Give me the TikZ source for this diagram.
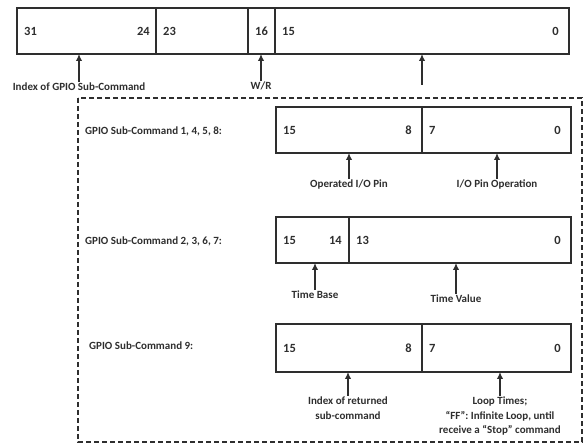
\documentclass[tikz,border=0pt]{standalone}
\usepackage{fontspec}
\setmainfont{Carlito}
\usepackage{tikz}
\usetikzlibrary{arrows.meta,positioning}
\definecolor{regline}{gray}{0.18}

\begin{document}
\begin{tikzpicture}[x=1pt,y=-1pt,regline,
	every node/.style={font=\fontsize{11}{14.5}\selectfont\bfseries,text=regline},
	fld/.style={draw=regline,line width=1.5pt,minimum height=46pt,inner sep=0pt,outer sep=0pt},
	num/.style={inner sep=0pt,font=\fontsize{12.5}{14}\selectfont\bfseries},
	lbl/.style={inner sep=1pt,align=center},
	arr/.style={line width=1.8pt,-{Latex[length=7pt,width=6.5pt]}}]
			\useasboundingbox (0,0) rectangle (584,443);

			\node[fld,minimum width=139pt,anchor=north west] (t31) at (17,8) {};
			\node[fld,minimum width=92pt,right=0pt of t31] (t23) {};
			\node[fld,minimum width=27pt,right=0pt of t23] (t16) {};
			\node[fld,minimum width=294pt,right=0pt of t16] (t15) {};
				\node[num,anchor=west] (n31) at ([xshift=7pt]t31.west) {31};
				\node[num,anchor=east] (n24) at ([xshift=-6pt]t31.east) {24};
				\node[num,anchor=west] (n23) at ([xshift=7pt]t23.west) {23};
				\node[num] (n16) at (t16) {16};
				\node[num,anchor=west] (n15) at ([xshift=7pt]t15.west) {15};
				\node[num,anchor=east] (n0) at ([xshift=-10pt]t15.east) {0};

			\node[lbl] (lidx) at (79,87) {Index of GPIO Sub-Command};
			\node[lbl] (lwr) at (261,86) {W/R};
			\coordinate (ctail) at (422,85);
			\draw[arr] (lidx.north) -- (lidx.north |- t31.south);
			\draw[arr] (lwr.north) -- (lwr.north |- t16.south);
			\draw[arr] (ctail) -- (ctail |- t15.south);

			\draw[line width=1.4pt,dash pattern=on 5pt off 3pt] (78,98) rectangle (582,442);

			\node[lbl,anchor=west] (ca) at (84,131) {GPIO Sub-Command 1, 4, 5, 8:};
			\node[fld,minimum width=146pt,anchor=north west] (a15) at (276,107) {};
			\node[fld,minimum width=149pt,right=0pt of a15] (a7) {};
				\node[num,anchor=west] (na15) at ([xshift=7pt]a15.west) {15};
				\node[num,anchor=east] (na8) at ([xshift=-10pt]a15.east) {8};
				\node[num,anchor=west] (na7) at ([xshift=7pt]a7.west) {7};
				\node[num,anchor=east] (na0) at ([xshift=-10pt]a7.east) {0};
			\node[lbl] (lpin) at (349,185) {Operated I/O Pin};
			\node[lbl] (lop) at (497,185) {I/O Pin Operation};
			\draw[arr] (lpin.north) -- (lpin.north |- a15.south);
			\draw[arr] (lop.north) -- (lop.north |- a7.south);

			\node[lbl,anchor=west] (cb) at (84,241) {GPIO Sub-Command 2, 3, 6, 7:};
			\node[fld,minimum width=73pt,anchor=north west] (b15) at (276,217) {};
			\node[fld,minimum width=222pt,right=0pt of b15] (b13) {};
				\node[num,anchor=west] (nb15) at ([xshift=7pt]b15.west) {15};
				\node[num,anchor=east] (nb14) at ([xshift=-7pt]b15.east) {14};
				\node[num,anchor=west] (nb13) at ([xshift=7pt]b13.west) {13};
				\node[num,anchor=east] (nb0) at ([xshift=-10pt]b13.east) {0};
			\node[lbl] (lbase) at (315,295) {Time Base};
			\node[lbl] (lval) at (456,299) {Time Value};
			\draw[arr] (lbase.north) -- (lbase.north |- b15.south);
			\draw[arr] (lval.north) -- (lval.north |- b13.south);

			\node[lbl,anchor=west] (cc) at (88,346) {GPIO Sub-Command 9:};
			\node[fld,minimum width=146pt,minimum height=48pt,anchor=north west] (c15) at (276,324) {};
			\node[fld,minimum width=149pt,minimum height=48pt,right=0pt of c15] (c7) {};
				\node[num,anchor=west] (nc15) at ([xshift=7pt]c15.west) {15};
				\node[num,anchor=east] (nc8) at ([xshift=-10pt]c15.east) {8};
				\node[num,anchor=west] (nc7) at ([xshift=7pt]c7.west) {7};
				\node[num,anchor=east] (nc0) at ([xshift=-10pt]c7.east) {0};
			\node[lbl,anchor=north] (lret) at (348,396) {Index of returned\\sub-command};
			\node[lbl,anchor=north] (lloop) at (500,396) {Loop Times;\\“FF”: Infinite Loop, until\\receive a “Stop” command};
			\draw[arr] (lret.north) -- (lret.north |- c15.south);
			\draw[arr] (lloop.north) -- (lloop.north |- c7.south);
		\end{tikzpicture}
\end{document}
